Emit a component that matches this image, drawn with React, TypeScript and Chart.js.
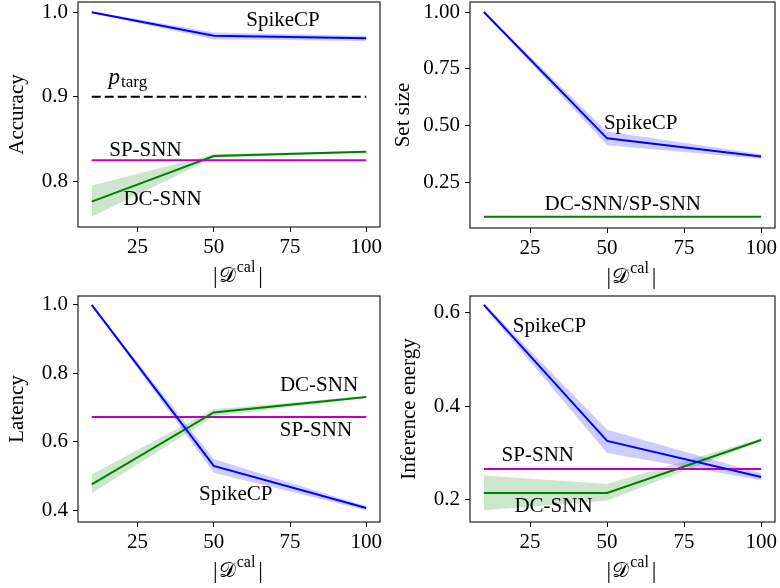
import React, { useEffect, useRef } from 'react';
import { Chart, registerables } from 'chart.js';
Chart.register(...registerables);

// ---------- data ----------
const X_CAL = [10, 50, 100];
const X_TICKS = [25, 50, 75, 100];

// Accuracy
const ACC_SPIKECP = [1.0, 0.972, 0.969];
const ACC_SPIKECP_LO = [0.999, 0.968, 0.966];
const ACC_SPIKECP_HI = [1.001, 0.976, 0.972];
const ACC_DCSNN = [0.776, 0.83, 0.835];
const ACC_DCSNN_LO = [0.758, 0.828, 0.834];
const ACC_DCSNN_HI = [0.795, 0.832, 0.836];
const ACC_SPSNN = 0.825;
const ACC_TARGET = 0.9;
const ACC_TICKS = [0.8, 0.9, 1.0];

// Set size
const SET_SPIKECP = [1.0, 0.445, 0.365];
const SET_SPIKECP_LO = [0.998, 0.415, 0.355];
const SET_SPIKECP_HI = [1.002, 0.475, 0.375];
const SET_BASELINES = 0.1;
const SET_TICKS = [0.25, 0.5, 0.75, 1.0];

// Latency
const LAT_SPIKECP = [1.0, 0.53, 0.407];
const LAT_SPIKECP_LO = [0.998, 0.51, 0.4];
const LAT_SPIKECP_HI = [1.002, 0.55, 0.412];
const LAT_DCSNN = [0.476, 0.686, 0.731];
const LAT_DCSNN_LO = [0.45, 0.675, 0.728];
const LAT_DCSNN_HI = [0.505, 0.695, 0.734];
const LAT_SPSNN = 0.673;
const LAT_TICKS = [0.4, 0.6, 0.8, 1.0];

// Inference energy
const EN_SPIKECP = [0.616, 0.326, 0.249];
const EN_SPIKECP_LO = [0.612, 0.3, 0.242];
const EN_SPIKECP_HI = [0.62, 0.35, 0.257];
const EN_DCSNN = [0.215, 0.215, 0.328];
const EN_DCSNN_LO = [0.178, 0.199, 0.325];
const EN_DCSNN_HI = [0.252, 0.234, 0.331];
const EN_SPSNN = 0.266;
const EN_TICKS = [0.2, 0.4, 0.6];

// ---------- styles ----------
const BLUE = '#0000ff';
const GREEN = '#008000';
const MAGENTA = '#bf00bf';
const BLUE_BAND = 'rgba(0,0,255,0.2)';
const GREEN_BAND = 'rgba(0,128,0,0.2)';
const SERIF = '"Liberation Serif", "Times New Roman", serif';
const FS = 21;

type Ann = { text: string; x: number; y: number; math?: boolean };

const pts = (ys: number[]) => X_CAL.map((x, i) => ({ x, y: ys[i] }));
const flat = (v: number) => [{ x: X_CAL[0], y: v }, { x: X_CAL[X_CAL.length - 1], y: v }];

const line = (data: any[], color: string, dash?: number[]) => ({
  data, borderColor: color, borderWidth: 2, pointRadius: 0, fill: false,
  borderDash: dash || [], tension: 0,
});
const band = (lo: number[], hi: number[], color: string) => [
  { data: pts(lo), borderWidth: 0, pointRadius: 0, fill: false, borderColor: 'transparent' },
  { data: pts(hi), borderWidth: 0, pointRadius: 0, fill: '-1', borderColor: 'transparent', backgroundColor: color },
];

type Panel = {
  left: number; top: number;
  area: { l: number; r: number; t: number; b: number };
  yMin: number; yMax: number; yTicks: number[]; dec: number;
  yTitle: string; yTitlePad: number;
  datasets: any[]; anns: Ann[];
};

const PANELS: Panel[] = [
  {
    left: 0, top: 0, area: { l: 78, r: 380, t: 2, b: 227 },
    yMin: 0.746, yMax: 1.012, yTicks: ACC_TICKS, dec: 1, yTitle: 'Accuracy', yTitlePad: 5,
    datasets: [
      line(pts(ACC_SPIKECP), BLUE),
      line(flat(ACC_SPSNN), MAGENTA),
      line(pts(ACC_DCSNN), GREEN),
      line(flat(ACC_TARGET), '#000', [9, 4]),
      ...band(ACC_SPIKECP_LO, ACC_SPIKECP_HI, BLUE_BAND),
      ...band(ACC_DCSNN_LO, ACC_DCSNN_HI, GREEN_BAND),
    ],
    anns: [
      { text: 'SpikeCP', x: 72.7, y: 0.99 },
      { text: 'p|targ', x: 15.5, y: 0.9156, math: true },
      { text: 'SP-SNN', x: 27.6, y: 0.836 },
      { text: 'DC-SNN', x: 33.2, y: 0.778 },
    ],
  },
  {
    left: 390, top: 0, area: { l: 80, r: 385, t: 2, b: 228 },
    yMin: 0.051, yMax: 1.044, yTicks: SET_TICKS, dec: 2, yTitle: 'Set size', yTitlePad: 1,
    datasets: [
      line(pts(SET_SPIKECP), BLUE),
      line(flat(SET_BASELINES), GREEN),
      ...band(SET_SPIKECP_LO, SET_SPIKECP_HI, BLUE_BAND),
    ],
    anns: [
      { text: 'SpikeCP', x: 60.9, y: 0.509 },
      { text: 'DC-SNN/SP-SNN', x: 55.1, y: 0.156 },
    ],
  },
  {
    left: 0, top: 294, area: { l: 78, r: 380, t: 2, b: 228 },
    yMin: 0.366, yMax: 1.026, yTicks: LAT_TICKS, dec: 1, yTitle: 'Latency', yTitlePad: 5,
    datasets: [
      line(pts(LAT_SPIKECP), BLUE),
      line(pts(LAT_DCSNN), GREEN),
      line(flat(LAT_SPSNN), MAGENTA),
      ...band(LAT_SPIKECP_LO, LAT_SPIKECP_HI, BLUE_BAND),
      ...band(LAT_DCSNN_LO, LAT_DCSNN_HI, GREEN_BAND),
    ],
    anns: [
      { text: 'DC-SNN', x: 84.5, y: 0.764 },
      { text: 'SP-SNN', x: 83.5, y: 0.632 },
      { text: 'SpikeCP', x: 57.2, y: 0.447 },
    ],
  },
  {
    left: 390, top: 294, area: { l: 80, r: 385, t: 2, b: 228 },
    yMin: 0.153, yMax: 0.635, yTicks: EN_TICKS, dec: 1, yTitle: 'Inference energy', yTitlePad: 7,
    datasets: [
      line(pts(EN_SPIKECP), BLUE),
      line(flat(EN_SPSNN), MAGENTA),
      line(pts(EN_DCSNN), GREEN),
      ...band(EN_SPIKECP_LO, EN_SPIKECP_HI, BLUE_BAND),
      ...band(EN_DCSNN_LO, EN_DCSNN_HI, GREEN_BAND),
    ],
    anns: [
      { text: 'SpikeCP', x: 31.3, y: 0.57 },
      { text: 'SP-SNN', x: 27.5, y: 0.294 },
      { text: 'DC-SNN', x: 32.6, y: 0.187 },
    ],
  },
];

const decorPlugin = {
  id: 'decor',
  afterDatasetsDraw(chart: any, _args: any, opts: any) {
    const { ctx, chartArea: ca, scales } = chart;
    ctx.save();
    ctx.fillStyle = '#000';
    // annotations
    (opts.anns as Ann[]).forEach((a) => {
      const px = scales.x.getPixelForValue(a.x);
      const py = scales.y.getPixelForValue(a.y);
      if (a.math) {
        const [main, sub] = a.text.split('|');
        ctx.textBaseline = 'alphabetic';
        ctx.textAlign = 'left';
        ctx.font = `italic ${FS + 2}px ${SERIF}`;
        ctx.fillText(main, px, py);
        const w = ctx.measureText(main).width;
        ctx.font = `${FS - 4}px ${SERIF}`;
        ctx.fillText(sub, px + w + 1, py + 3);
      } else {
        ctx.font = `${FS}px ${SERIF}`;
        ctx.textAlign = 'center';
        ctx.textBaseline = 'middle';
        ctx.fillText(a.text, px, py);
      }
    });
    // frame
    ctx.strokeStyle = '#222';
    ctx.lineWidth = 1.2;
    ctx.strokeRect(ca.left, ca.top, ca.right - ca.left, ca.bottom - ca.top);
    // x title |D^cal|
    const cx = (ca.left + ca.right) / 2 + 9;
    const base = ca.bottom + 55;
    const parts: [string, string, number][] = [
      ['|', `${FS + 2}px ${SERIF}`, 1],
      ['\u{1D49F}', `${FS}px "DejaVu Sans", ${SERIF}`, 0],
      ['cal', `${FS - 5}px ${SERIF}`, -10],
      ['|', `${FS + 2}px ${SERIF}`, 1],
    ];
    const widths = parts.map(([t, f]) => { ctx.font = f; return ctx.measureText(t).width; });
    const gaps = [1, 1, 3, 0];
    const total = widths.reduce((s, w, i) => s + w + gaps[i], 0);
    let x = cx - total / 2;
    ctx.textAlign = 'left';
    ctx.textBaseline = 'alphabetic';
    parts.forEach(([t, f, dy], i) => {
      ctx.font = f;
      ctx.fillText(t, x, base + dy);
      x += widths[i] + gaps[i];
    });
    ctx.restore();
  },
};

function PanelChart({ p }: { p: Panel }) {
  const ref = useRef<HTMLCanvasElement>(null);
  useEffect(() => {
    const c = ref.current!;
    const chart = new Chart(c, {
      type: 'line',
      data: { datasets: p.datasets.map((d) => ({ ...d, data: d.data.map((o: any) => ({ ...o })) })) },
      plugins: [decorPlugin],
      options: {
        responsive: false,
        animation: false,
        devicePixelRatio: 1,
        layout: { padding: { left: 0, top: p.area.t, right: 390 - p.area.r, bottom: 0 } },
        plugins: {
          legend: { display: false },
          tooltip: { enabled: false },
          filler: { drawTime: 'beforeDatasetsDraw' },
          decor: { anns: p.anns },
        } as any,
        scales: {
          x: {
            type: 'linear', min: 5.5, max: 104.5,
            afterBuildTicks: (s: any) => { s.ticks = X_TICKS.map((v) => ({ value: v })); },
            afterFit: (s: any) => { s.height = 294 - p.area.b; s.paddingLeft = 0; s.paddingRight = 0; },
            ticks: { font: { size: FS, family: SERIF }, color: '#000', padding: 3, maxRotation: 0, autoSkip: false },
            grid: { drawOnChartArea: false, drawTicks: true, tickLength: 5, color: '#000', lineWidth: 1 },
            border: { display: false },
          },
          y: {
            type: 'linear', min: p.yMin, max: p.yMax,
            afterBuildTicks: (s: any) => { s.ticks = p.yTicks.map((v) => ({ value: v })); },
            afterFit: (s: any) => { s.width = p.area.l; s.paddingTop = 0; s.paddingBottom = 0; },
            ticks: {
              font: { size: FS, family: SERIF }, color: '#000', padding: 5, autoSkip: false,
              callback: (v: any) => Number(v).toFixed(p.dec),
            },
            grid: { drawOnChartArea: false, drawTicks: true, tickLength: 5, color: '#000', lineWidth: 1 },
            border: { display: false },
            title: { display: true, text: p.yTitle, font: { size: FS, family: SERIF }, color: '#000', padding: { top: p.yTitlePad, bottom: 0 } },
          },
        },
      } as any,
    });
    return () => chart.destroy();
  }, []);
  return (
    <div style={{ position: 'absolute', left: p.left, top: p.top, width: 390, height: 294 }}>
      <canvas ref={ref} width={390} height={294} style={{ width: 390, height: 294, display: 'block' }} />
    </div>
  );
}

export default function App() {
  return (
    <div style={{ position: 'fixed', left: 0, top: 0, width: 780, height: 588, background: '#fff', overflow: 'hidden' }}>
      {PANELS.map((p, i) => <PanelChart key={i} p={p} />)}
    </div>
  );
}
